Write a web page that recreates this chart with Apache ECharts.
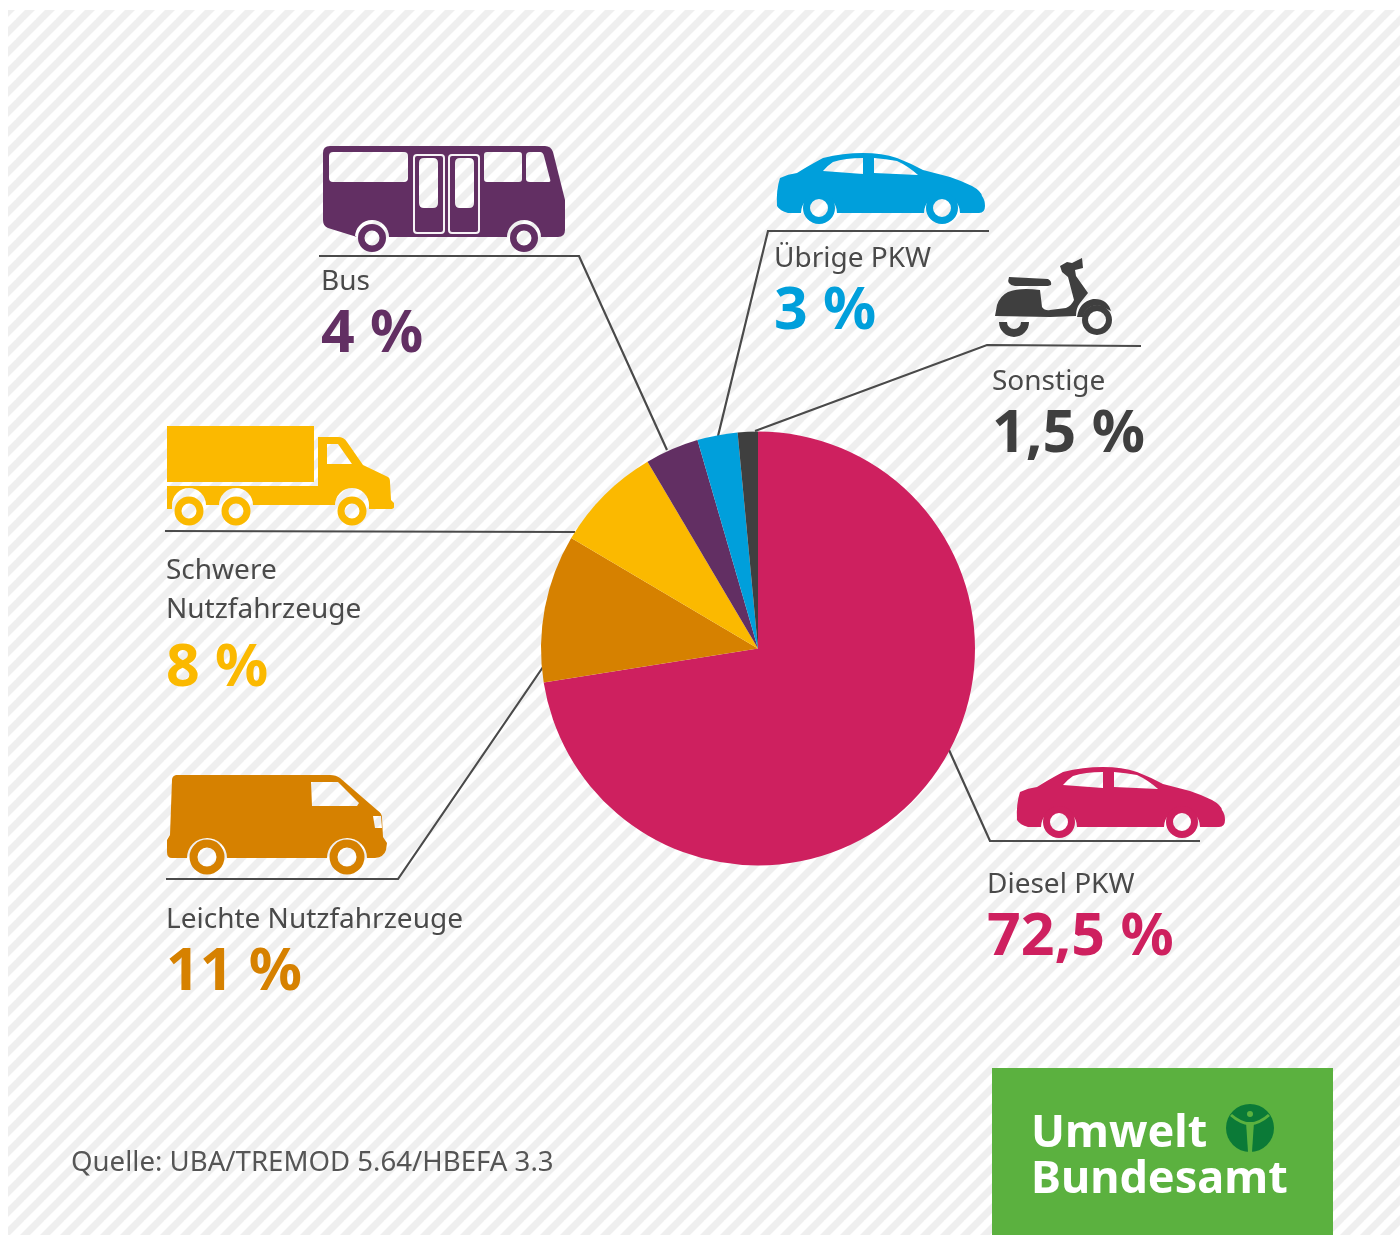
<!DOCTYPE html>
<html>
<head>
<meta charset="utf-8">
<style>html,body{margin:0;padding:0;background:#fff}#c{width:1400px;height:1235px}</style>
<script src="https://cdn.jsdelivr.net/npm/echarts@6/dist/echarts.min.js"></script>
</head>
<body>
<div id="c"></div>
<script>
const categories = ['Diesel PKW', 'Leichte Nutzfahrzeuge', 'Schwere\nNutzfahrzeuge', 'Bus', 'Übrige PKW', 'Sonstige'];
const shares = [72.5, 11, 8, 4, 3, 1.5];
const colours = ['#CE205F', '#D68100', '#FBB900', '#622F63', '#009FDB', '#3F3F3F'];
const labelAnchors = [[987, 866], [166, 901], [166, 552], [321, 263], [774, 240], [992, 363]];
const valueGaps = [66, 66, 78, 66, 66, 66];
const sourceText = 'Quelle: UBA/TREMOD 5.64/HBEFA 3.3';

const FONT = '"Noto Sans", sans-serif';
const INK = '#4A4A4A';

function stripes() {
  const n = 20, c = document.createElement('canvas');
  c.width = n; c.height = n;
  const g = c.getContext('2d');
  g.fillStyle = '#fff'; g.fillRect(0, 0, n, n);
  g.strokeStyle = '#EFEFEF'; g.lineWidth = 7;
  for (const o of [-n, 0, n]) {
    g.beginPath(); g.moveTo(o - 2, n + 2); g.lineTo(o + n + 2, -2); g.stroke();
  }
  return c;
}
let shapeCount = 0;
function plain(d, fill, extra, styleExtra) {
  const name = 'iconShape' + (shapeCount++);
  echarts.graphic.registerShape(name, echarts.graphic.extendPath(d, {}));
  return Object.assign({ type: name, style: Object.assign({ fill }, styleExtra || {}) }, extra || {});
}
function arch(cx, R, y) { return `L${cx + R} ${y} A${R} ${R} 0 0 0 ${cx - R} ${y} `; }
function hole(x, y, w, h, r) {
  return `M${x + r} ${y} Q${x} ${y} ${x} ${y + r} L${x} ${y + h - r} Q${x} ${y + h} ${x + r} ${y + h} L${x + w - r} ${y + h} Q${x + w} ${y + h} ${x + w} ${y + h - r} L${x + w} ${y + r} Q${x + w} ${y} ${x + w - r} ${y} Z `;
}
function ring(cx, cy, r, r0, fill, extra) { return Object.assign({ type: 'ring', shape: { cx, cy, r, r0 }, style: { fill } }, extra || {}); }
function leader(points) { return { type: 'polyline', shape: { points }, style: { stroke: INK, lineWidth: 2.2, fill: 'none' }, z: 1 }; }

function car(fill, dx, dy) {
  const extra = { x: dx, y: dy, z: 3 };
  const body = 'M780 178 Q788 174 797 173 Q808 166 823 158 Q843 153 863 153 Q882 153 897 158 Q910 163 923 170 L950 177 Q962 181 972 186 Q981 191 982 196 Q985 200 985 206 Q985 213 979 213 ' +
    arch(942, 18, 213) + arch(819, 18, 213) + 'L788 213 Q780 211 777 206 Q776 190 780 178 Z ' +
    'M823 171 L863 174 L863 158 Q845 158 833 162 Q827 166 823 171 Z ' +
    'M874 173 L918 175 Q908 166 897 161 Q886 159 874 158 Z';
  return [plain(body, fill, extra), ring(819, 208, 16, 9, fill, extra), ring(942, 208, 16, 9, fill, extra)];
}

const busBody = 'M330 146 L545 146 Q551 146 553 152 L565 200 L565 230 Q565 237 558 237 ' +
  arch(524, 17, 237) + arch(372, 17, 237) + 'L357 237 L328 228 Q323 226 323 220 L323 153 Q323 146 330 146 Z ' +
  hole(329, 152, 79, 30, 4) + hole(419, 158, 19, 50, 5) + hole(455, 158, 19, 50, 5) + hole(484, 152, 38, 30, 3) +
  'M530 152 Q526 152 526 156 L526 179 Q526 182 530 182 L549 182 Q551 182 550 179 L544 156 Q543 152 540 152 Z';
const truckBox = 'M167 426 L314 426 L314 482 L167 482 Z';
const truckBody = 'M167 486 L318 486 L318 437 L338 437 Q344 437 347 442 L363 465 L388 477 Q390 478 390 482 L391 500 L394 503 L394 507 Q394 509 390 509 L369 509 ' +
  arch(352, 17, 505) + 'L253 505 ' + arch(236, 17, 505) + arch(189, 17, 505) + 'L172 509 L167 509 Z ' +
  'M327 444 L327 464 L352 464 L338 444 Z';
const vanBody = 'M176 775 L330 775 Q336 775 340 778 L377 810 Q382 813 382 818 L383 837 L387 843 L386 850 Q384 857 375 858 L367 858 ' +
  arch(347, 20, 858) + arch(207, 20, 858) + 'L172 858 Q167 858 167 852 L167 840 L170 835 L172 780 Q172 776 176 775 Z ' +
  'M311 782 L312 806 L357 806 L359 803 L338 782 Z M373 816 L375 828 L382 828 L381 816 Z';
const scooterPaths = [
  'M1009 277 L1048 279 Q1052 281 1051 285 L1048 286 L1015 286 Q1006 285 1009 277 Z',
  'M995 316 L997 305 Q1000 296 1008 292 Q1020 287 1040 290 L1042 307 Q1045 311 1050 310 L1066 308 Q1072 305 1074 300 L1068 277 L1062 272 L1060 266 L1067 262 L1072 263 L1082 258 L1083 268 L1075 270 L1076 276 L1088 293 L1080 303 Q1076 308 1076 316 L1050 317 Z',
  'M1077 317 Q1079 302 1093 299 Q1107 298 1111 311 L1105 308 Q1098 303 1090 307 Q1084 311 1083 317 Z',
  'M999 322 A15 15 0 0 0 1029 322 L1021 322 A7 7 0 0 1 1007 322 Z'
];

const graphics = [
  { type: 'rect', shape: { x: 8, y: 10, width: 1392, height: 1225 }, style: { fill: { image: stripes(), repeat: 'repeat' } }, z: 0 },
  leader([[319, 256], [579, 256], [667, 450]]),
  leader([[989, 231], [768, 231], [718, 436]]),
  leader([[1141, 346], [987, 345], [755, 431]]),
  leader([[165, 531], [575, 532]]),
  leader([[166, 879], [398, 879], [543, 667]]),
  leader([[1200, 841], [990, 841], [949, 750]]),
  plain(busBody, colours[3], { z: 3 }),
  { type: 'rect', shape: { x: 414, y: 155, width: 30, height: 78, r: 3 }, style: { fill: 'none', stroke: '#F6F2F6', lineWidth: 2 }, z: 4 },
  { type: 'rect', shape: { x: 449, y: 155, width: 30, height: 78, r: 3 }, style: { fill: 'none', stroke: '#F6F2F6', lineWidth: 2 }, z: 4 },
  ring(372, 238, 14, 7.5, colours[3], { z: 3 }), ring(524, 238, 14, 7.5, colours[3], { z: 3 }),
  ...car(colours[4], 0, 0),
  ...car(colours[0], 240, 614),
  plain(truckBox, colours[2], { z: 3 }), plain(truckBody, colours[2], { z: 3 }),
  ring(189, 511, 14.5, 7.5, colours[2], { z: 3 }), ring(236, 511, 14.5, 7.5, colours[2], { z: 3 }), ring(352, 511, 14.5, 7.5, colours[2], { z: 3 }),
  plain(vanBody, colours[1], { z: 3 }),
  ring(207, 857, 17.5, 9.5, colours[1], { z: 3 }), ring(347, 857, 17.5, 9.5, colours[1], { z: 3 }),
  ...scooterPaths.map(d => plain(d, colours[5], { z: 3 })),
  ring(1097, 320, 15, 9, colours[5], { z: 3 }),
  { type: 'rect', shape: { x: 992, y: 1068, width: 341, height: 167 }, style: { fill: '#5BB13F' }, z: 3 },
  { type: 'text', x: 1031, y: 1112, style: { text: 'Umwelt', font: 'bold 45px ' + FONT, fill: '#fff' }, z: 4 },
  { type: 'text', x: 1031, y: 1158, style: { text: 'Bundesamt', font: 'bold 45px ' + FONT, fill: '#fff' }, z: 4 },
  { type: 'circle', shape: { cx: 1250, cy: 1128, r: 24 }, style: { fill: '#0B7A37' }, z: 4 },
  { type: 'circle', shape: { cx: 1250, cy: 1114, r: 3 }, style: { fill: '#5BB13F' }, z: 5 },
  plain('M1231 1115 Q1240 1123 1250 1124 Q1260 1123 1269 1115', 'none', { z: 5 }, { stroke: '#5BB13F', lineWidth: 3 }),
  plain('M1246 1122 L1254 1122 L1252 1152 L1248 1152 Z', '#5BB13F', { z: 5 }),
  { type: 'text', x: 71, y: 1149, style: { text: sourceText, font: '27.6px ' + FONT, fill: '#555' }, z: 4 }
];

const pieData = categories.map((name, i) => ({
  name,
  value: shares[i],
  itemStyle: { color: colours[i] },
  label: { rich: { n: { fontFamily: FONT, fontSize: 28, lineHeight: 39, color: INK }, v: { fontFamily: FONT, fontWeight: 'bold', fontSize: 59, lineHeight: valueGaps[i], color: colours[i] } } }
}));

const chart = echarts.init(document.getElementById('c'), null, { renderer: 'canvas', width: 1400, height: 1235 });
chart.setOption({
  animation: false,
  backgroundColor: '#fff',
  graphic: { elements: graphics },
  series: [{
    type: 'pie',
    center: [758, 648.5],
    radius: [0, 217],
    startAngle: 90,
    clockwise: true,
    avoidLabelOverlap: false,
    emphasis: { disabled: true },
    silent: true,
    data: pieData,
    itemStyle: { borderWidth: 0 },
    label: {
      show: true,
      position: 'outside',
      align: 'left',
      formatter: p => p.name.split('\n').map(s => `{n|${s}}`).join('\n') + `\n{v|${String(p.value).replace('.', ',')} %}`
    },
    labelLine: { show: false },
    labelLayout: p => ({ x: labelAnchors[p.dataIndex][0], y: labelAnchors[p.dataIndex][1], align: 'left', verticalAlign: 'top', hideOverlap: false })
  }]
});
</script>
</body>
</html>
